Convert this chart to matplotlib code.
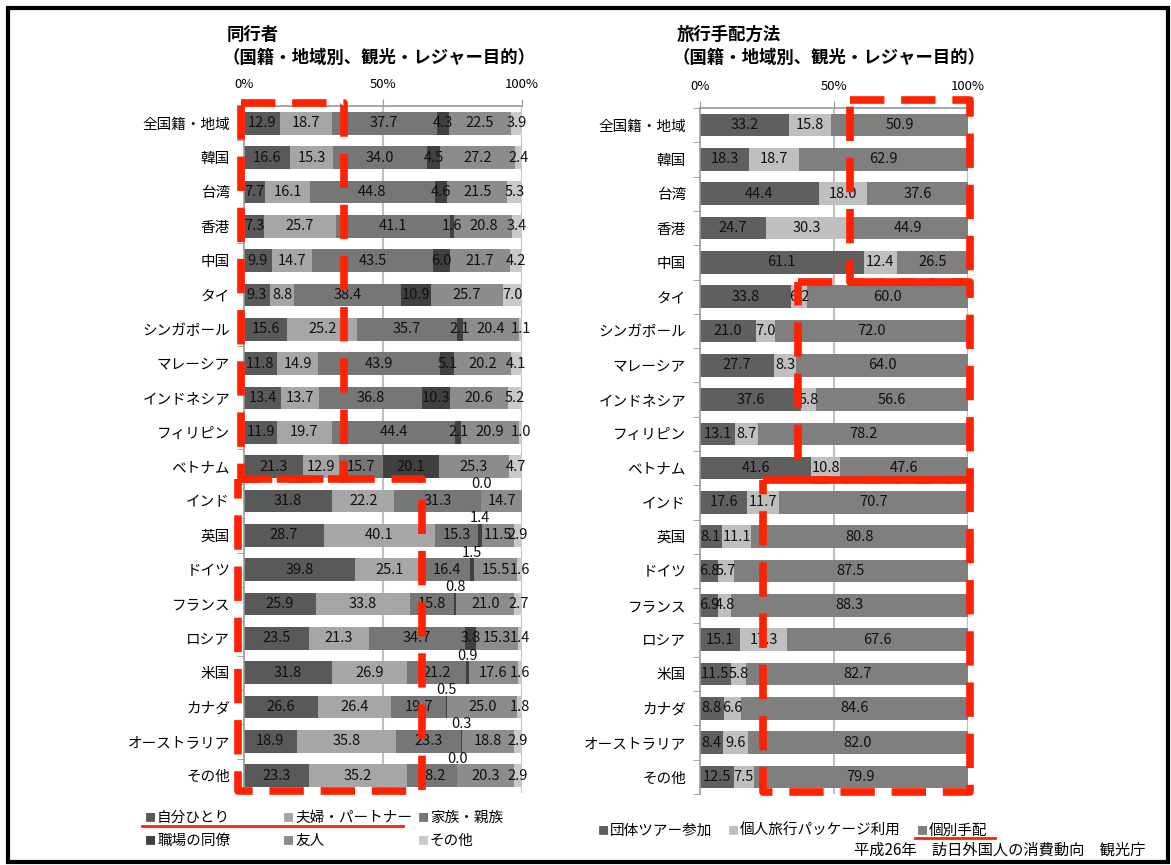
import matplotlib
matplotlib.use('Agg')
import matplotlib.pyplot as plt
from matplotlib.patches import Rectangle
from matplotlib.lines import Line2D
import numpy as np

plt.rcParams['font.family'] = ['Noto Sans CJK JP', 'DejaVu Sans']

countries = ['全国籍・地域', '韓国', '台湾', '香港', '中国', 'タイ', 'シンガポール',
             'マレーシア', 'インドネシア', 'フィリピン', 'ベトナム', 'インド', '英国',
             'ドイツ', 'フランス', 'ロシア', '米国', 'カナダ', 'オーストラリア', 'その他']

# 同行者
alone = [12.9, 16.6, 7.7, 7.3, 9.9, 9.3, 15.6, 11.8, 13.4, 11.9, 21.3,
         31.8, 28.7, 39.8, 25.9, 23.5, 31.8, 26.6, 18.9, 23.3]
couple = [18.7, 15.3, 16.1, 25.7, 14.7, 8.8, 25.2, 14.9, 13.7, 19.7, 12.9,
          22.2, 40.1, 25.1, 33.8, 21.3, 26.9, 26.4, 35.8, 35.2]
family = [37.7, 34.0, 44.8, 41.1, 43.5, 38.4, 35.7, 43.9, 36.8, 44.4, 15.7,
          31.3, 15.3, 16.4, 15.8, 34.7, 21.2, 19.7, 23.3, 18.2]
coworker = [4.3, 4.5, 4.6, 1.6, 6.0, 10.9, 2.1, 5.1, 10.3, 2.1, 20.1,
            0.0, 1.4, 1.5, 0.8, 3.8, 0.9, 0.5, 0.3, 0.0]
friends = [22.5, 27.2, 21.5, 20.8, 21.7, 25.7, 20.4, 20.2, 20.6, 20.9, 25.3,
           14.7, 11.5, 15.5, 21.0, 15.3, 17.6, 25.0, 18.8, 20.3]
other = [3.9, 2.4, 5.3, 3.4, 4.2, 7.0, 1.1, 4.1, 5.2, 1.0, 4.7,
         0.0, 2.9, 1.6, 2.7, 1.4, 1.6, 1.8, 2.9, 2.9]
# rows whose 職場の同僚 label sits above the bar
coworker_above = ['インド', '英国', 'ドイツ', 'フランス', '米国', 'カナダ', 'オーストラリア', 'その他']

# 旅行手配方法
group_tour = [33.2, 18.3, 44.4, 24.7, 61.1, 33.8, 21.0, 27.7, 37.6, 13.1, 41.6,
              17.6, 8.1, 6.8, 6.9, 15.1, 11.5, 8.8, 8.4, 12.5]
package = [15.8, 18.7, 18.0, 30.3, 12.4, 6.2, 7.0, 8.3, 5.8, 8.7, 10.8,
           11.7, 11.1, 5.7, 4.8, 17.3, 5.8, 6.6, 9.6, 7.5]
individual = [50.9, 62.9, 37.6, 44.9, 26.5, 60.0, 72.0, 64.0, 56.6, 78.2, 47.6,
              70.7, 80.8, 87.5, 88.3, 67.6, 82.7, 84.6, 82.0, 79.9]

companion_names = ['自分ひとり', '夫婦・パートナー', '家族・親族', '職場の同僚', '友人', 'その他']
companion_colors = ['#595959', '#a6a6a6', '#767676', '#404040', '#8c8c8c', '#c9c9c9']
arrange_names = ['団体ツアー参加', '個人旅行パッケージ利用', '個別手配']
arrange_colors = ['#5f5f5f', '#bfbfbf', '#7f7f7f']

RED = '#ff2200'
W, H = 1171, 865
fig = plt.figure(figsize=(W / 100, H / 100), dpi=100)


def px_axes(x0, x1, y0, y1):
    return fig.add_axes([x0 / W, 1 - y1 / H, (x1 - x0) / W, (y1 - y0) / H])


def setup(ax):
    n = len(countries)
    ax.set_xlim(0, 100)
    ax.set_ylim(n - 0.5, -0.5)
    ax.xaxis.tick_top()
    ax.set_xticks([0, 50, 100])
    ax.set_xticklabels(['0%', '50%', '100%'])
    ax.tick_params(axis='x', length=5, color='#999999', pad=6, labelsize=9.5)
    ax.set_yticks(range(n))
    ax.set_yticklabels(countries, fontsize=10.5)
    ax.set_yticks(np.arange(-0.5, n), minor=True)
    ax.tick_params(axis='y', which='major', length=0, pad=10)
    ax.tick_params(axis='y', which='minor', length=5, color='#999999')
    for s in ['right', 'bottom']:
        ax.spines[s].set_visible(False)
    for s in ['top', 'left']:
        ax.spines[s].set_color('#999999')
        ax.spines[s].set_linewidth(1.2)
    for x in [50, 100]:
        ax.axvline(x, color='#c0c0c0', lw=1.5, zorder=0)


def stacked(ax, series, colors, above_series=None, above_rows=()):
    y = np.arange(len(countries))
    left = np.zeros(len(countries))
    for j, (vals, c) in enumerate(zip(series, colors)):
        vals = np.array(vals)
        ax.barh(y, vals, left=left, height=0.66, color=c, zorder=2)
        for i, v in enumerate(vals):
            cx = left[i] + v / 2
            if j == above_series and countries[i] in above_rows:
                ax.text(cx, i - 0.5, f'{v:.1f}', ha='center', va='center',
                        fontsize=10.5, color='#111111', zorder=3, clip_on=False)
            elif v > 0:
                ax.text(cx, i, f'{v:.1f}', ha='center', va='center',
                        fontsize=10.5, color='#111111', zorder=3, clip_on=False)
        left += vals


def red_box(ax, x0, x1, y0, y1):
    ax.plot([x0, x1, x1, x0, x0], [y0, y0, y1, y1, y0], color=RED, lw=5.5,
            dashes=(4.5, 2.2), dash_joinstyle='round', clip_on=False, zorder=5)


# left chart
ax1 = px_axes(244, 522, 106, 793)
setup(ax1)
stacked(ax1, [alone, couple, family, coworker, friends, other], companion_colors,
        above_series=3, above_rows=coworker_above)
red_box(ax1, -1, 36, -0.6, 10.35)
red_box(ax1, -2, 64, 10.35, 19.45)

# right chart
ax2 = px_axes(700, 968, 108, 794)
setup(ax2)
stacked(ax2, [group_tour, package, individual], arrange_colors)
red_box(ax2, 56, 100.7, -0.73, 4.58)
red_box(ax2, 36.6, 100.7, 4.58, 10.35)
red_box(ax2, 23.5, 100.7, 10.35, 19.45)

# titles
for x, t in [(227, '同行者'), (677, '旅行手配方法')]:
    fig.text(x / W, 1 - 35 / H, t, fontsize=12.5, fontweight='bold', va='center')
    fig.text((x - 5) / W, 1 - 58 / H, '（国籍・地域別、観光・レジャー目的）',
             fontsize=12.5, fontweight='bold', va='center')

# legends
def legend_item(x, y, c, label):
    fig.text(x / W, 1 - y / H, '■', color=c, fontsize=8, va='center')
    fig.text((x + 12) / W, 1 - y / H, label, fontsize=10.5, va='center')

left_pos = [(145, 818), (283, 818), (418, 818), (145, 841), (283, 841), (418, 841)]
for (x, y), c, name in zip(left_pos, companion_colors, companion_names):
    legend_item(x, y, c, name)
right_pos = [(598, 831), (728, 831), (917, 831)]
for (x, y), c, name in zip(right_pos, arrange_colors, arrange_names):
    legend_item(x, y, c, name)

fig.add_artist(Line2D([142 / W, 403 / W], [1 - 826 / H] * 2, color=RED, lw=2))
fig.add_artist(Line2D([915 / W, 995 / W], [1 - 838 / H] * 2, color=RED, lw=2))

fig.text(1145 / W, 1 - 850 / H, '平成26年　訪日外国人の消費動向　観光庁',
         fontsize=11, ha='right', va='center')

fig.add_artist(Rectangle((8 / W, 1 - 862 / H), 1160 / W, 854 / H, fill=False,
                         edgecolor='black', lw=3, transform=fig.transFigure))

fig.savefig('out.png', dpi=100)
